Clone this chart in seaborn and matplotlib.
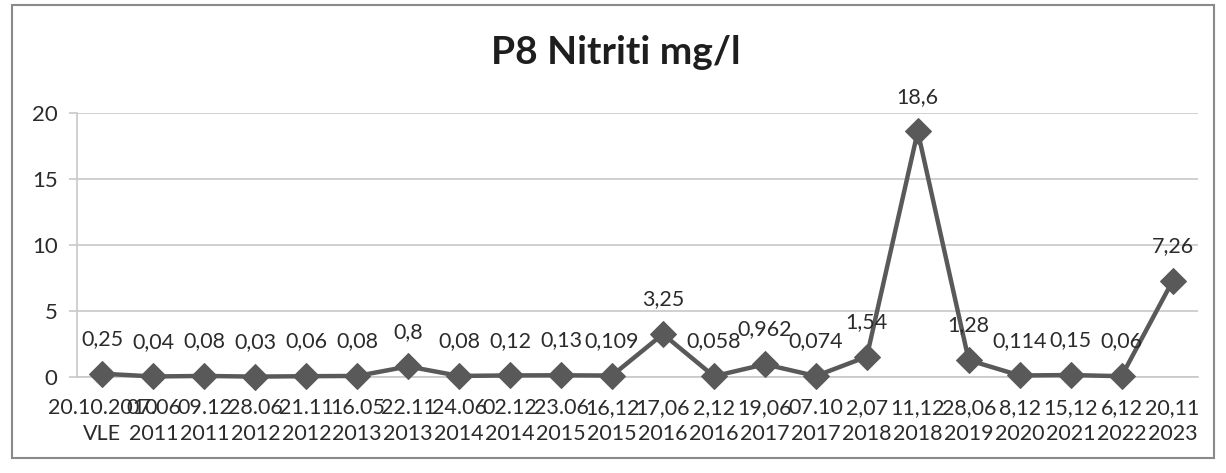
import matplotlib
matplotlib.use("Agg")
import matplotlib.pyplot as plt
import seaborn as sns
import pandas as pd
import numpy as np
from matplotlib.patches import Rectangle

dates = ["20.10.2010\nVLE", "07.06\n2011", "09.12\n2011", "28.06\n2012", "21.11\n2012",
         "16.05\n2013", "22.11\n2013", "24.06\n2014", "02.12\n2014", "23.06\n2015",
         "16,12\n2015", "17,06\n2016", "2,12\n2016", "19,06\n2017", "07.10\n2017",
         "2,07\n2018", "11,12\n2018", "28,06\n2019", "8,12\n2020", "15,12\n2021",
         "6,12\n2022", "20,11\n2023"]
values = [0.25, 0.04, 0.08, 0.03, 0.06, 0.08, 0.8, 0.08, 0.12, 0.13, 0.109, 3.25,
          0.058, 0.962, 0.074, 1.54, 18.6, 1.28, 0.114, 0.15, 0.06, 7.26]
value_labels = ["0,25", "0,04", "0,08", "0,03", "0,06", "0,08", "0,8", "0,08", "0,12",
                "0,13", "0,109", "3,25", "0,058", "0,962", "0,074", "1,54", "18,6",
                "1,28", "0,114", "0,15", "0,06", "7,26"]
title = "P8 Nitriti mg/l"
yticks = [0, 5, 10, 15, 20]

sns.set_style("white")
plt.rcParams['font.family'] = ['Lato', 'DejaVu Sans']

df = pd.DataFrame({"pos": np.arange(len(values)), "value": values})

fig = plt.figure(figsize=(12.26, 4.73), dpi=100)
fig.patch.set_facecolor("white")
ax = fig.add_axes([77/1226, 96/473, (1198-77)/1226, (377-113)/473])

line_col = "#595959"
text_col = "#2b2b2b"
grid_col = "#c8c8c8"

sns.lineplot(data=df, x="pos", y="value", ax=ax, color=line_col, linewidth=3.2,
             marker="D", markersize=13, markeredgecolor=line_col,
             markerfacecolor=line_col, clip_on=False, zorder=3)

for x, v, lab in zip(df["pos"], values, value_labels):
    ax.annotate(lab, (x, v), xytext=(0, 25), textcoords="offset points",
                ha="center", va="center", fontsize=15.5, color=text_col,
                annotation_clip=False)

ax.set_xlim(-0.5, len(values) - 0.5)
ax.set_ylim(0, 20)
ax.set_yticks(yticks)
ax.set_yticklabels([str(t) for t in yticks], fontsize=16, color=text_col)
ax.yaxis.grid(True, color=grid_col, linewidth=1.2)
ax.set_axisbelow(True)

ax.set_xticks(np.arange(len(values)))
ax.set_xticklabels(dates, fontsize=15.5, color=text_col, linespacing=1.4)
ax.set_xticks(np.arange(-0.5, len(values)), minor=True)
ax.tick_params(axis="x", which="major", length=0, pad=15)
ax.tick_params(axis="x", which="minor", length=6, color=grid_col, width=1.2)
ax.tick_params(axis="y", length=6, color=grid_col, width=1.2, pad=8, left=True)

for s in ["top", "right"]:
    ax.spines[s].set_visible(False)
for s in ["left", "bottom"]:
    ax.spines[s].set_color(grid_col)
    ax.spines[s].set_linewidth(1.2)

ax.set_xlabel("")
ax.set_ylabel("")

fig.text(0.502, 0.89, title, ha="center", va="center", fontsize=28,
         fontweight="bold", color="#1e1e1e")

# outer chart border
fig.patches.append(Rectangle((12/1226, 15/473), (1214-12)/1226, (468-15)/473,
                             transform=fig.transFigure, fill=False,
                             edgecolor="#8a8a8a", linewidth=1.5))

fig.savefig("out.png", dpi=100, facecolor="white")
